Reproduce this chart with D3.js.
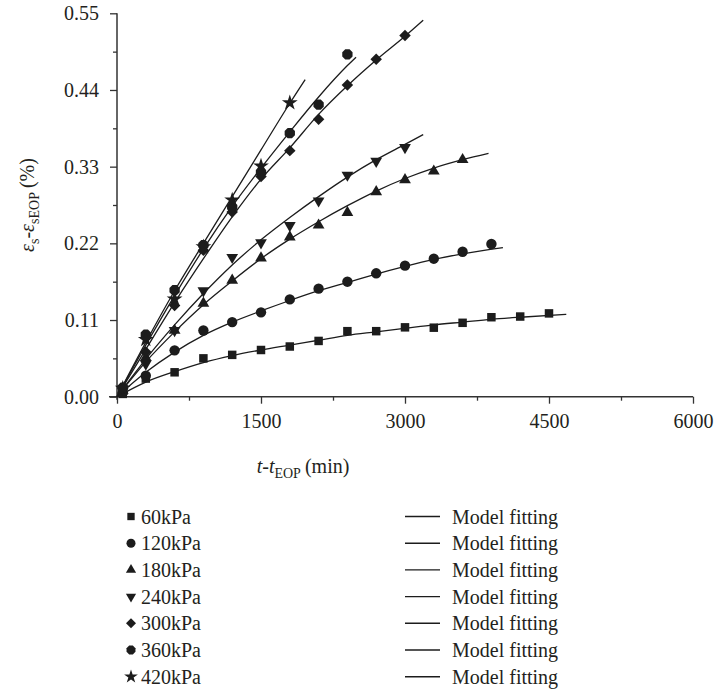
<!DOCTYPE html>
<html>
<head>
<meta charset="utf-8">
<script src="https://cdn.jsdelivr.net/npm/d3@7"></script>
<style>
  body { margin: 0; background: #fff; }
  svg { display: block; }
</style>
</head>
<body>
<script>
// measured points: shared time grid (min), each series stops where its data stops
const obsTime = [60, 300, 600, 900, 1200, 1500, 1800, 2100, 2400, 2700, 3000, 3300, 3600, 3900, 4200, 4500];

const obs60 = [0.004, 0.026, 0.035, 0.055, 0.060, 0.067, 0.072, 0.080, 0.094, 0.094, 0.0995, 0.099, 0.106, 0.114, 0.115, 0.1195];
const obs120 = [0.006, 0.030, 0.0665, 0.095, 0.107, 0.121, 0.1396, 0.155, 0.165, 0.177, 0.188, 0.198, 0.208, 0.219];
const obs180 = [0.009, 0.056, 0.095, 0.134, 0.167, 0.199, 0.229, 0.246, 0.264, 0.294, 0.311, 0.3235, 0.340];
const obs240 = [0.011, 0.047, 0.095, 0.152, 0.200, 0.221, 0.2457, 0.281, 0.318, 0.338, 0.3575];
const obs300 = [0.012, 0.064, 0.131, 0.210, 0.265, 0.316, 0.353, 0.398, 0.447, 0.484, 0.518];
const obs360 = [0.013, 0.089, 0.153, 0.2175, 0.272, 0.322, 0.378, 0.419, 0.491];
const obs420 = [0.012, 0.082, 0.140, 0.215, 0.282, 0.331, 0.4215];

// model fitting curves
const fit60 = [[0, 0], [300, 0.021], [600, 0.036], [900, 0.049], [1200, 0.059], [1500, 0.067], [1800, 0.074], [2100, 0.081], [2400, 0.088], [2700, 0.093], [3000, 0.098], [3300, 0.103], [3600, 0.107], [3900, 0.111], [4200, 0.114], [4680, 0.118]];
const fit120 = [[0, 0], [300, 0.035], [600, 0.064], [900, 0.088], [1200, 0.107], [1500, 0.123], [1800, 0.138], [2100, 0.152], [2400, 0.164], [2700, 0.176], [3000, 0.187], [3300, 0.197], [3600, 0.205], [4020, 0.214]];
const fit180 = [[0, 0], [300, 0.050], [600, 0.093], [900, 0.132], [1200, 0.166], [1500, 0.198], [1800, 0.226], [2100, 0.251], [2400, 0.274], [2700, 0.295], [3000, 0.313], [3300, 0.328], [3600, 0.340], [3870, 0.349]];
const fit240 = [[0, 0], [300, 0.054], [600, 0.103], [900, 0.148], [1200, 0.189], [1500, 0.225], [1800, 0.257], [2100, 0.287], [2400, 0.315], [2700, 0.340], [3000, 0.362], [3190, 0.376]];
const fit300 = [[0, 0], [300, 0.068], [600, 0.135], [900, 0.198], [1200, 0.258], [1500, 0.312], [1800, 0.357], [2100, 0.405], [2400, 0.446], [2700, 0.483], [3000, 0.517], [3190, 0.540]];
const fit360 = [[0, 0], [300, 0.074], [600, 0.145], [900, 0.212], [1200, 0.273], [1500, 0.328], [1800, 0.380], [2100, 0.430], [2400, 0.475], [2490, 0.487]];
const fit420 = [[0, 0], [300, 0.078], [600, 0.152], [900, 0.220], [1200, 0.287], [1500, 0.354], [1800, 0.421], [1960, 0.455]];

const loadNames = ['60kPa', '120kPa', '180kPa', '240kPa', '300kPa', '360kPa', '420kPa'];
const fitLabel = 'Model fitting';

const xTicks = [0, 1500, 3000, 4500, 6000];
const yTicks = [0, 0.11, 0.22, 0.33, 0.44, 0.55];

const width = 714;
const height = 691;
const ink = '#1c1c1c';
const textInk = '#231f20';
const font = '"Liberation Serif", "Times New Roman", serif';

// an eight sided blob for the 360kPa points
const symbolOcta = {
  draw(context, size) {
    const r = Math.sqrt(size / (2 * Math.SQRT2));
    for (let i = 0; i < 8; i++) {
      const a = Math.PI / 8 + i * Math.PI / 4;
      const px = r * Math.cos(a), py = r * Math.sin(a);
      if (i === 0) context.moveTo(px, py); else context.lineTo(px, py);
    }
    context.closePath();
  },
};

const series = [
  { obs: obs60, fit: fit60, type: d3.symbolSquare, size: 72, rot: 0 },
  { obs: obs120, fit: fit120, type: d3.symbolCircle, size: 85, rot: 0 },
  { obs: obs180, fit: fit180, type: d3.symbolTriangle, size: 60, rot: 0 },
  { obs: obs240, fit: fit240, type: d3.symbolTriangle, size: 60, rot: 180 },
  { obs: obs300, fit: fit300, type: d3.symbolSquare, size: 66, rot: 45 },
  { obs: obs360, fit: fit360, type: symbolOcta, size: 88, rot: 0 },
  { obs: obs420, fit: fit420, type: d3.symbolStar, size: 78, rot: 0 },
];
series.forEach((s, i) => { s.name = loadNames[i]; });

const x = d3.scaleLinear().domain([0, 6000]).range([117, 693]);
const y = d3.scaleLinear().domain([0, 0.55]).range([396.7, 13.3]);

const svg = d3.select('body').append('svg')
  .attr('width', width)
  .attr('height', height)
  .attr('viewBox', [0, 0, width, height])
  .style('font-family', font);

// minor ticks first, majors on top
svg.append('g')
  .attr('transform', `translate(0,${y(0)})`)
  .call(d3.axisBottom(x).tickValues(d3.range(750, 6000, 1500)).tickSize(4).tickSizeOuter(0).tickFormat(''))
  .call((g) => g.select('.domain').remove());

svg.append('g')
  .attr('transform', `translate(${x(0)},0)`)
  .call(d3.axisLeft(y).tickValues(d3.range(0.055, 0.55, 0.11)).tickSize(4).tickSizeOuter(0).tickFormat(''))
  .call((g) => g.select('.domain').remove());

const xAxis = svg.append('g')
  .attr('transform', `translate(0,${y(0)})`)
  .call(d3.axisBottom(x).tickValues(xTicks).tickSize(7).tickSizeOuter(0).tickPadding(10).tickFormat(d3.format('d')));

const yAxis = svg.append('g')
  .attr('transform', `translate(${x(0)},0)`)
  .call(d3.axisLeft(y).tickValues(yTicks).tickSize(7).tickSizeOuter(0).tickPadding(11).tickFormat(d3.format('.2f')));

[xAxis, yAxis].forEach((g) => {
  g.selectAll('text').attr('font-family', font).attr('font-size', 20).attr('fill', textInk);
  g.select('.domain').remove();
});
svg.selectAll('.tick line').attr('stroke', '#333').attr('stroke-width', 1.3);

// axis lines, the bottom one runs a little past the origin
svg.append('line')
  .attr('x1', x(0) - 8).attr('x2', x(6000))
  .attr('y1', y(0)).attr('y2', y(0))
  .attr('stroke', '#333').attr('stroke-width', 1.5);
svg.append('line')
  .attr('x1', x(0)).attr('x2', x(0))
  .attr('y1', y(0.55)).attr('y2', y(0) + 3)
  .attr('stroke', '#333').attr('stroke-width', 1.5);

// axis titles
const xTitle = svg.append('text')
  .attr('x', 303)
  .attr('y', 473)
  .attr('text-anchor', 'middle')
  .attr('font-size', 20)
  .attr('fill', textInk);
xTitle.append('tspan').attr('font-style', 'italic').text('t');
xTitle.append('tspan').text('-');
xTitle.append('tspan').attr('font-style', 'italic').text('t');
xTitle.append('tspan').attr('font-size', 14).attr('dy', 5).text('EOP');
xTitle.append('tspan').attr('dy', -5).text('\u2009(min)');

const yTitle = svg.append('text')
  .attr('transform', `translate(34,${(y(0) + y(0.55)) / 2}) rotate(-90)`)
  .attr('text-anchor', 'middle')
  .attr('font-size', 20)
  .attr('fill', textInk);
yTitle.append('tspan').attr('font-style', 'italic').text('\u03b5');
yTitle.append('tspan').attr('font-size', 14).attr('dy', 5).text('s');
yTitle.append('tspan').attr('dy', -5).text('-');
yTitle.append('tspan').attr('font-style', 'italic').text('\u03b5');
yTitle.append('tspan').attr('font-size', 14).attr('dy', 5).text('sEOP');
yTitle.append('tspan').attr('dy', -5).text('\u2009(%)');

// fitting curves
const line = d3.line()
  .x((d) => x(d[0]))
  .y((d) => y(d[1]))
  .curve(d3.curveMonotoneX);

svg.append('g')
  .selectAll('path')
  .data(series)
  .join('path')
  .attr('d', (s) => line(s.fit))
  .attr('fill', 'none')
  .attr('stroke', ink)
  .attr('stroke-width', 1.3);

// measured points
const marks = svg.append('g')
  .selectAll('g')
  .data(series)
  .join('g');

marks.selectAll('path')
  .data((s) => s.obs.map((v, i) => ({ t: obsTime[i], v, s })))
  .join('path')
  .attr('d', (d) => d3.symbol(d.s.type, d.s.size)())
  .attr('transform', (d) => `translate(${x(d.t)},${y(d.v)}) rotate(${d.s.rot})`)
  .attr('fill', ink);

// legend
const rowY = (i) => 516.5 + i * 26.7;

const legend = svg.append('g')
  .selectAll('g')
  .data(series)
  .join('g')
  .attr('transform', (s, i) => `translate(0,${rowY(i)})`);

legend.append('path')
  .attr('d', (s) => d3.symbol(s.type, s.size * 0.75)())
  .attr('transform', (s) => `translate(131,0) rotate(${s.rot})`)
  .attr('fill', ink);

legend.append('text')
  .attr('x', 141)
  .attr('y', 7)
  .attr('font-size', 20)
  .attr('fill', textInk)
  .text((s) => s.name);

legend.append('line')
  .attr('x1', 405)
  .attr('x2', 440)
  .attr('stroke', ink)
  .attr('stroke-width', 1.4);

legend.append('text')
  .attr('x', 452)
  .attr('y', 7)
  .attr('font-size', 20)
  .attr('fill', textInk)
  .text(fitLabel);
</script>
</body>
</html>
